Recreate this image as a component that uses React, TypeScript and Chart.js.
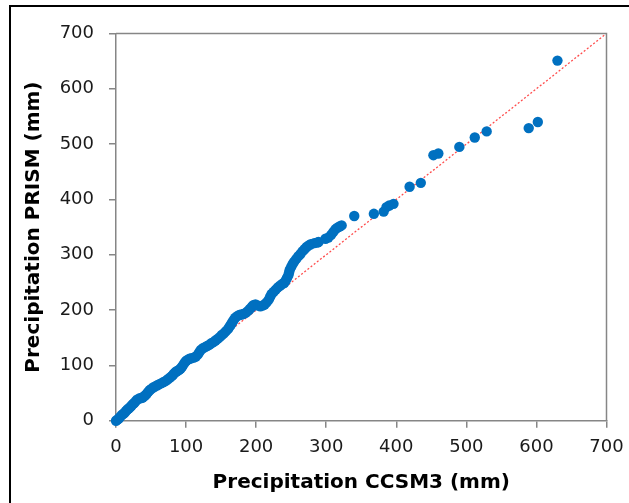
import React, { useEffect, useRef } from "react";
import { Chart, registerables } from "chart.js";

Chart.register(...registerables);

// CCSM3 (x) and PRISM (y) precipitation, mm
const ccsm3: number[] = [
  0, 2, 4, 6, 8, 10, 12, 14, 16, 18, 20, 22, 24, 26, 28, 30, 33, 36, 38, 40,
  42, 44, 46, 48, 50, 53, 56, 59, 62, 65, 68, 71, 74, 77, 80, 82, 84, 86, 88, 90,
  92, 94, 96, 98, 100, 102, 105, 108, 111, 114, 117, 119, 121, 124, 127, 130, 133, 136, 139, 142,
  145, 148, 151, 154, 157, 160, 162, 164, 166, 168, 170, 173, 176, 179, 182, 185, 188, 191, 194, 196,
  199, 203, 206, 209, 212, 215, 218, 220, 222, 225, 228, 231, 234, 237, 240, 242, 244, 246, 247, 248,
  250, 252, 254, 257, 260, 263, 266, 269, 272, 275, 278, 283, 287, 289, 299, 303, 307, 310, 313, 316,
  319, 322, 340, 368, 382, 386, 390, 396, 419, 435, 453, 460, 490, 512, 529, 589, 602, 630,
];
const prism: number[] = [
  0, 2, 4, 7, 10, 12, 14, 17, 20, 22, 24, 27, 30, 32, 35, 38, 40, 41, 42, 44,
  46, 49, 52, 55, 57, 60, 62, 64, 66, 68, 70, 72, 75, 78, 81, 84, 87, 89, 90, 92,
  94, 97, 101, 105, 108, 110, 112, 113, 114, 116, 120, 124, 128, 131, 133, 135, 137, 140, 142, 145,
  148, 151, 155, 158, 162, 166, 170, 174, 178, 182, 186, 189, 191, 192, 193, 195, 198, 202, 206, 209,
  210, 208, 207, 208, 210, 214, 219, 224, 229, 233, 237, 241, 244, 247, 249, 253, 258, 263, 268, 273,
  278, 283, 287, 292, 297, 301, 306, 310, 314, 317, 319, 321, 322, 323, 329, 331, 336, 341, 346, 349,
  351, 353, 370, 374, 378, 386, 389, 392, 423, 430, 480, 483, 495, 512, 523, 529, 540, 651,
];
// 1:1 reference line
const lineX: number[] = [0, 700];
const lineY: number[] = [0, 700];
const axisMin = 0;
const axisMax = 700;
const tickStep = 100;
const xTitle = "Precipitation CCSM3 (mm)";
const yTitle = "Precipitation PRISM (mm)";

const AXIS_GRAY = "#868686";

const boxPlugin = {
  id: "plotBox",
  afterDatasetsDraw(chart: any) {
    const { ctx, chartArea } = chart;
    ctx.save();
    ctx.strokeStyle = AXIS_GRAY;
    ctx.lineWidth = 1.5;
    ctx.beginPath();
    ctx.moveTo(chartArea.left, chartArea.top);
    ctx.lineTo(chartArea.right, chartArea.top);
    ctx.lineTo(chartArea.right, chartArea.bottom);
    ctx.stroke();
    ctx.restore();
  },
};

export default function App() {
  const ref = useRef<HTMLCanvasElement | null>(null);

  useEffect(() => {
    if (!ref.current) return;
    const points = ccsm3.map((x, i) => ({ x, y: prism[i] }));
    const line = lineX.map((x, i) => ({ x, y: lineY[i] }));
    const tickFont = { family: "DejaVu Sans", size: 18 };
    const titleFont = { family: "DejaVu Sans", size: 20, weight: "bold" as const };

    const chart = new Chart(ref.current, {
      type: "scatter",
      data: {
        datasets: [
          {
            label: "PRISM vs CCSM3",
            data: points,
            backgroundColor: "#0070C0",
            borderColor: "#0070C0",
            pointRadius: 5.2,
            pointBorderWidth: 0,
            clip: false,
          },
          {
            label: "1:1",
            data: line,
            showLine: true,
            borderColor: "#FF4D4D",
            borderWidth: 1.3,
            borderDash: [2, 2],
            pointRadius: 0,
            fill: false,
          },
        ],
      },
      options: {
        animation: false,
        responsive: false,
        maintainAspectRatio: false,
        layout: { padding: { top: 33.5, right: 22.5, left: 0, bottom: 0 } },
        plugins: {
          legend: { display: false },
          tooltip: { enabled: false },
        },
        scales: {
          x: {
            type: "linear",
            min: axisMin,
            max: axisMax,
            ticks: { stepSize: tickStep, font: tickFont, color: "#1a1a1a", padding: 9 },
            grid: {
              drawOnChartArea: false,
              drawTicks: true,
              tickLength: 7,
              color: AXIS_GRAY,
              lineWidth: 1.5,
            },
            border: { color: AXIS_GRAY, width: 1.5 },
            title: {
              display: true,
              text: xTitle,
              font: titleFont,
              color: "#000",
              padding: { top: 0, bottom: 8 },
            },
            afterFit: (scale: any) => {
              scale.height = 82.3;
              scale.paddingLeft = 0;
              scale.paddingRight = 0;
            },
          },
          y: {
            type: "linear",
            min: axisMin,
            max: axisMax,
            ticks: { stepSize: tickStep, font: tickFont, color: "#1a1a1a", padding: 15 },
            grid: {
              drawOnChartArea: false,
              drawTicks: true,
              tickLength: 7,
              color: AXIS_GRAY,
              lineWidth: 1.5,
            },
            border: { color: AXIS_GRAY, width: 1.5 },
            title: {
              display: true,
              text: yTitle,
              font: titleFont,
              color: "#000",
              padding: { top: 22, bottom: 0 },
            },
            afterFit: (scale: any) => {
              scale.width = 116;
              scale.paddingTop = 0;
              scale.paddingBottom = 0;
            },
          },
        },
      },
      plugins: [boxPlugin],
    });
    return () => chart.destroy();
  }, []);

  return (
    <div
      style={{
        position: "fixed",
        left: 0,
        top: 0,
        width: 629,
        height: 503,
        background: "#fff",
        overflow: "hidden",
      }}
    >
      <canvas ref={ref} width={629} height={503} style={{ display: "block" }} />
      <div
        style={{
          position: "absolute",
          left: 9,
          top: 5,
          width: 700,
          height: 600,
          borderLeft: "2px solid #000",
          borderTop: "2px solid #000",
          pointerEvents: "none",
        }}
      />
    </div>
  );
}
